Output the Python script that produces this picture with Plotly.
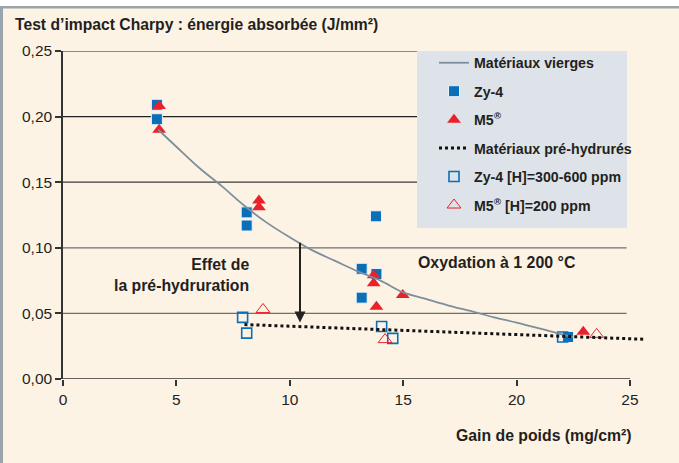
import plotly.graph_objects as go

# ---- data -------------------------------------------------------------
# Zy-4, as received (filled squares)
zy4_x = [4.14, 4.14, 8.1, 8.1, 13.8, 13.17, 13.17, 13.82, 22.27]
zy4_y = [0.209, 0.198, 0.127, 0.117, 0.124, 0.084, 0.062, 0.080, 0.032]

# M5, as received (filled triangles)
m5_x = [4.24, 4.24, 8.64, 8.64, 13.7, 13.7, 13.82, 14.98, 22.94]
m5_y = [0.208, 0.190, 0.136, 0.131, 0.079, 0.073, 0.055, 0.064, 0.036]

# Zy-4 pre-hydrided [H]=300-600 ppm (open squares)
zy4h_x = [7.92, 8.10, 14.05, 14.54, 22.03]
zy4h_y = [0.047, 0.035, 0.040, 0.031, 0.032]

# M5 pre-hydrided [H]=200 ppm (open triangles)
m5h_x = [8.82, 14.20, 23.53]
m5h_y = [0.053, 0.030, 0.034]

# Trend, as-received materials
vierge_x = [4.2, 5, 6, 7, 8, 9, 10, 11, 12, 13, 14, 15, 16, 17, 18, 19, 20, 21, 22, 22.5]
vierge_y = [0.190, 0.177, 0.161, 0.147, 0.132, 0.119, 0.108, 0.098, 0.090, 0.082,
            0.075, 0.066, 0.061, 0.056, 0.0517, 0.047, 0.043, 0.0386, 0.034, 0.032]

# Trend, pre-hydrided materials
hydr_x = [8.0, 25.6]
hydr_y = [0.0415, 0.0303]

# Arrow showing the effect of pre-hydriding
arrow_x = 10.45
arrow_y_start = 0.105
arrow_y_end = 0.043

# Axes
x_ticks = [0, 5, 10, 15, 20, 25]
y_ticks = [0.0, 0.05, 0.10, 0.15, 0.20, 0.25]
y_ticktext = ["0,00", "0,05", "0,10", "0,15", "0,20", "0,25"]

# ---- styling ----------------------------------------------------------
FONT = "Liberation Sans, Arial, Helvetica, sans-serif"
TXT = "#231F20"
BLUE = "#0B6FB8"
RED = "#E8212B"
CURVE = "#7D8E9C"
CREAM = "#FDF3E5"

W, H = 679, 463
L, R, T, B = 63, 32, 51, 84
PW, PH = W - L - R, H - T - B


def px(xp):
    return (xp - L) / PW


def py(yp):
    return (H - B - yp) / PH


fig = go.Figure()

fig.add_trace(go.Scatter(
    x=zy4_x, y=zy4_y, mode="markers", name="Zy-4", legendrank=2,
    marker=dict(symbol="square", size=11, color=BLUE, line=dict(color="#EAF2F8", width=1)),
))
fig.add_trace(go.Scatter(
    x=m5_x, y=m5_y, mode="markers", name="M5<sup>®</sup>", legendrank=3,
    marker=dict(symbol="triangle-up", size=12, color=RED, line=dict(width=0)),
))
fig.add_trace(go.Scatter(
    x=zy4h_x, y=zy4h_y, mode="markers", name="Zy-4 [H]=300-600 ppm", legendrank=5,
    marker=dict(symbol="square-open", size=10, color=BLUE, line=dict(color=BLUE, width=1.6)),
))
fig.add_trace(go.Scatter(
    x=m5h_x, y=m5h_y, mode="markers", name="M5<sup>®</sup> [H]=200 ppm", legendrank=6,
    marker=dict(symbol="triangle-up-open", size=12, color=RED, line=dict(color=RED, width=1)),
))
fig.add_trace(go.Scatter(
    x=vierge_x, y=vierge_y, mode="lines", name="Matériaux vierges", legendrank=1,
    line=dict(color=CURVE, width=1.8, shape="spline"),
))
fig.add_trace(go.Scatter(
    x=hydr_x, y=hydr_y, mode="lines", name="Matériaux pré-hydrurés", legendrank=4,
    line=dict(color="#111111", width=3, dash="dot"),
))

for i, tr in enumerate(fig.data):
    tr.legendgroup = f"g{i}"

shapes = []
# horizontal grid lines, stopping short of the right edge
grid_colors = ["#555555", "#6E6E6E", "#6E6E6E", "#3A3A3A", "#222222", "#222222"]
for v, c in zip(y_ticks[1:], grid_colors[1:]):
    shapes.append(dict(type="line", xref="x", yref="y", x0=0, x1=24.85, y0=v, y1=v,
                       line=dict(color=c, width=1.2), layer="below"))
# x axis line
shapes.append(dict(type="line", xref="x", yref="y", x0=0, x1=25, y0=0, y1=0,
                   line=dict(color="#333333", width=1.5), layer="above"))
# legend panel
shapes.append(dict(type="rect", xref="paper", yref="paper",
                   x0=px(417), x1=px(627), y0=py(228), y1=py(51),
                   fillcolor="#DDE3E8", line=dict(width=0), layer="above"))
# page frame: white strip and grey rule on top, grey rule on the left
shapes.append(dict(type="rect", xref="paper", yref="paper",
                   x0=px(0), x1=px(W), y0=py(6), y1=py(0),
                   fillcolor="white", line=dict(width=0), layer="above"))
shapes.append(dict(type="rect", xref="paper", yref="paper",
                   x0=px(0), x1=px(W), y0=py(8.5), y1=py(6),
                   fillcolor="#9AA4AC", line=dict(width=0), layer="above"))
shapes.append(dict(type="rect", xref="paper", yref="paper",
                   x0=px(0), x1=px(3), y0=py(H), y1=py(6),
                   fillcolor="#9AA4AC", line=dict(width=0), layer="above"))

annotations = [
    dict(text="Test d’impact Charpy : énergie absorbée (J/mm²)", xref="paper", yref="paper",
         x=px(13), y=py(25), xanchor="left", yanchor="middle", showarrow=False,
         font=dict(family=FONT, size=15.7, color=TXT, weight="bold")),
    dict(text="Gain de poids (mg/cm²)", xref="paper", yref="paper",
         x=px(634), y=py(435), xanchor="right", yanchor="middle", showarrow=False,
         font=dict(family=FONT, size=15.8, color=TXT, weight="bold")),
    dict(text="Effet de<br>la pré-hydruration", xref="paper", yref="paper",
         x=px(251), y=py(275), xanchor="right", yanchor="middle", align="right",
         showarrow=False, font=dict(family=FONT, size=15.8, color=TXT, weight="bold")),
    dict(text="Oxydation à 1 200 °C", xref="paper", yref="paper",
         x=px(497), y=py(262), xanchor="center", yanchor="middle", showarrow=False,
         font=dict(family=FONT, size=15.9, color=TXT, weight="bold")),
    dict(x=arrow_x, y=arrow_y_end, ax=arrow_x, ay=arrow_y_start, xref="x", yref="y",
         axref="x", ayref="y", text="", showarrow=True, arrowhead=2, arrowsize=1.1,
         arrowwidth=2, arrowcolor="#222222"),
]

fig.update_layout(
    width=W, height=H,
    margin=dict(l=L, r=R, t=T, b=B),
    paper_bgcolor=CREAM, plot_bgcolor=CREAM,
    font=dict(family=FONT, color=TXT),
    showlegend=True,
    legend=dict(
        x=px(434), y=py(47), xanchor="left", yanchor="top",
        bgcolor="rgba(0,0,0,0)", borderwidth=0,
        traceorder="grouped", tracegroupgap=7,
        font=dict(family=FONT, size=14.2, color=TXT, weight="bold"),
    ),
    xaxis=dict(
        range=[0, 25.75], showgrid=False, zeroline=False, showline=False,
        tickvals=x_ticks, ticks="outside", ticklen=6, tickcolor="#333333", tickwidth=1.5,
        tickfont=dict(family=FONT, size=15.5, color=TXT),
    ),
    yaxis=dict(
        range=[0, 0.25], showgrid=False, zeroline=False, showline=True,
        linecolor="#333333", linewidth=1.5,
        tickvals=y_ticks, ticktext=y_ticktext, ticks="outside", ticklen=6,
        tickcolor="#333333", tickwidth=1.5,
        tickfont=dict(family=FONT, size=15.5, color=TXT),
    ),
    shapes=shapes,
    annotations=annotations,
)

fig.write_html("out.html")
